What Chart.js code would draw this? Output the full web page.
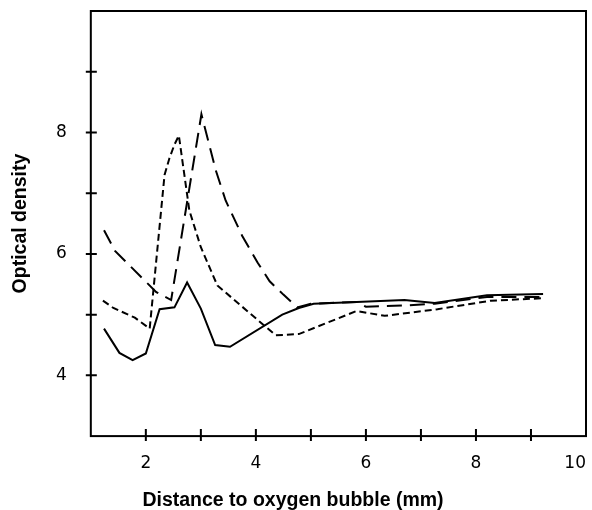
<!DOCTYPE html>
<html>
<head>
<meta charset="utf-8">
<script src="https://cdn.jsdelivr.net/npm/chart.js@4/dist/chart.umd.min.js"></script>
<style>
  html, body { margin: 0; padding: 0; background: #fff; }
  #wrap { width: 592px; height: 510px; }
</style>
</head>
<body>
<div id="wrap"><canvas id="odChart"></canvas></div>
<script>
// values
const solidX = [1.24, 1.52, 1.76, 2.0, 2.25, 2.52, 2.75, 3.0, 3.26, 3.53, 4.48, 4.78, 5.05, 5.83, 6.7, 7.25, 8.2, 9.22];
const solidY = [4.77, 4.37, 4.25, 4.36, 5.09, 5.12, 5.53, 5.10, 4.50, 4.47, 5.00, 5.11, 5.18, 5.21, 5.24, 5.19, 5.32, 5.34];

const longX = [1.24, 1.44, 2.19, 2.46, 3.01, 3.27, 3.45, 3.75, 4.03, 4.25, 4.5, 4.75, 5.0, 5.83, 6.0, 6.7, 7.25, 8.2, 9.22];
const longY = [6.39, 6.05, 5.37, 5.24, 8.30, 7.38, 6.88, 6.30, 5.86, 5.55, 5.33, 5.12, 5.18, 5.21, 5.13, 5.15, 5.18, 5.29, 5.29];

const shortX = [1.22, 1.41, 1.80, 2.07, 2.34, 2.43, 2.52, 2.6, 2.79, 3.0, 3.3, 4.36, 4.78, 5.83, 6.34, 7.3, 8.27, 9.22];
const shortY = [5.23, 5.11, 4.95, 4.77, 7.30, 7.58, 7.80, 7.95, 6.72, 6.11, 5.48, 4.66, 4.68, 5.06, 4.98, 5.09, 5.23, 5.27];

const xLabels = [2, 4, 6, 8, 10];
const yLabels = [4, 6, 8];

const toPoints = (xs, ys) => xs.map((x, i) => ({ x: x, y: ys[i] }));

// box round the plot plus ticks crossing the axes
const framePlugin = {
  id: "frame",
  afterDraw(chart) {
    const { ctx, chartArea: a, scales } = chart;
    ctx.save();
    ctx.strokeStyle = "#000";
    ctx.lineWidth = 2;
    ctx.strokeRect(a.left, a.top, a.right - a.left, a.bottom - a.top);
    ctx.beginPath();
    scales.x.ticks.forEach(t => {
      if (t.value <= scales.x.min || t.value >= scales.x.max) return;
      const px = scales.x.getPixelForValue(t.value);
      ctx.moveTo(px, a.bottom - 7);
      ctx.lineTo(px, a.bottom + 5);
    });
    scales.y.ticks.forEach(t => {
      if (t.value <= scales.y.min || t.value >= scales.y.max) return;
      const py = scales.y.getPixelForValue(t.value);
      ctx.moveTo(a.left - 5, py);
      ctx.lineTo(a.left + 6, py);
    });
    ctx.stroke();
    ctx.restore();
  }
};

const lineStyle = {
  borderColor: "#000",
  borderWidth: 2,
  pointRadius: 0,
  tension: 0,
  fill: false
};

const tickFont = { family: "DejaVu Sans", size: 17 };
const titleFont = { family: "Liberation Sans", size: 19.5, weight: "bold", lineHeight: 1.0 };

new Chart(document.getElementById("odChart"), {
  type: "line",
  data: {
    datasets: [
      { ...lineStyle, label: "solid", data: toPoints(solidX, solidY) },
      { ...lineStyle, label: "long dash", data: toPoints(longX, longY), borderDash: [15, 8] },
      { ...lineStyle, label: "short dash", data: toPoints(shortX, shortY), borderDash: [7, 4] }
    ]
  },
  options: {
    responsive: true,
    maintainAspectRatio: false,
    animation: false,
    layout: { padding: { top: 11, right: 6, left: 0, bottom: 0 } },
    plugins: {
      legend: { display: false },
      tooltip: { enabled: false },
      title: {
        display: true,
        position: "bottom",
        text: "Distance to oxygen bubble (mm)",
        color: "#000",
        font: titleFont,
        padding: { top: 17, bottom: 0 }
      }
    },
    scales: {
      x: {
        type: "linear",
        min: 1,
        max: 10,
        border: { display: false },
        grid: { drawOnChartArea: false, color: "rgba(0,0,0,0)", tickLength: 17 },
        ticks: {
          stepSize: 1,
          autoSkip: false,
          maxRotation: 0,
          align: "inner",
          padding: 0,
          color: "#000",
          font: tickFont,
          callback: v => xLabels.includes(v) ? String(v) : ""
        }
      },
      y: {
        min: 3,
        max: 10,
        border: { display: false },
        grid: { drawOnChartArea: false, color: "rgba(0,0,0,0)", tickLength: 24 },
        ticks: {
          stepSize: 1,
          autoSkip: false,
          padding: 0,
          color: "#000",
          font: tickFont,
          callback: v => yLabels.includes(v) ? String(v) : ""
        },
        title: {
          display: true,
          text: "Optical density",
          color: "#000",
          font: titleFont,
          padding: { top: 10.5, bottom: 26 }
        }
      }
    }
  },
  plugins: [framePlugin]
});
</script>
</body>
</html>
